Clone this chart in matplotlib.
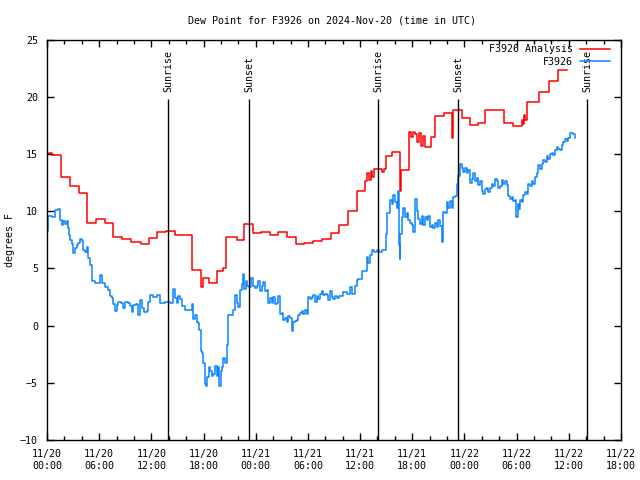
import matplotlib
matplotlib.use("Agg")
import matplotlib.pyplot as plt
from matplotlib.ticker import MultipleLocator

plt.rcParams['font.family'] = ['DejaVu Sans Mono']
plt.rcParams['font.size'] = 7.2

# hours since 11/20 00:00 UTC
analysis_t = [0, 0.6, 1.6, 2.65, 3.68, 4.63, 5.6, 6.67, 7.63, 8.66, 9.66, 10.77,
              11.73, 12.68, 13.65, 14.72, 16.63, 17.7, 17.9, 18.6, 19.6, 20.2,
              20.6, 21.8, 22.65, 23.65, 24.57, 25.64, 26.6, 27.56, 28.6, 29.6,
              30.6, 31.66, 32.6, 33.6, 34.65, 35.6, 36.6, 36.8, 37.0, 37.2,
              37.4, 37.6, 38.55, 38.7, 38.95, 39.7, 40.62, 40.72, 41.6, 41.85,
              42.05, 42.35, 42.55, 42.75, 43.0, 43.25, 43.5, 44.1, 44.6, 45.7,
              46.6, 46.68, 47.7, 48.6, 49.6, 50.4, 52.5, 53.6, 54.6, 54.75,
              54.85, 55.0, 55.2, 56.6, 57.75, 58.7, 59.75]
analysis_v = [15.05, 14.9, 13.0, 12.2, 11.6, 8.95, 9.3, 8.95, 7.7, 7.6, 7.3, 7.1,
              7.65, 8.15, 8.3, 7.9, 4.9, 3.4, 4.2, 3.7, 4.8, 5.0,
              7.7, 7.5, 8.9, 8.05, 8.2, 7.9, 8.2, 7.75, 7.1, 7.25,
              7.35, 7.6, 8.05, 8.8, 10.0, 11.75, 12.6, 13.3, 12.7, 13.5,
              13.0, 13.65, 13.4, 13.65, 14.8, 15.15, 11.8, 13.6, 16.9, 16.5,
              16.9, 16.7, 16.0, 16.8, 15.7, 16.6, 15.6, 16.5, 18.3, 18.6,
              16.4, 18.8, 18.1, 17.5, 17.7, 18.8, 17.7, 17.4, 18.0, 17.6,
              18.4, 18.0, 19.5, 20.4, 21.4, 22.3, 22.3]

obs_t = [0.0, 0.15, 0.54, 0.92, 1.23, 1.49, 1.69, 1.88, 2.07, 2.26, 2.38, 2.53,
         2.68, 2.84, 3.03, 3.22, 3.41, 3.6, 3.79, 3.99, 4.18, 4.37, 4.56, 4.75,
         4.94, 5.14, 5.52, 5.9, 6.09, 6.29, 6.67, 7.05, 7.24, 7.44, 7.63, 7.82,
         8.01, 8.2, 8.51, 8.78, 8.97, 9.35, 9.54, 9.74, 9.93, 10.2, 10.5, 10.69,
         10.89, 11.19, 11.46, 11.58, 11.84, 12.22, 12.61, 12.99, 13.57, 14.14,
         14.52, 14.72, 14.91, 15.1, 15.29, 15.49, 15.87, 16.25, 16.63, 16.82,
         17.02, 17.21, 17.4, 17.51, 17.67, 17.82, 17.97, 18.17, 18.28, 18.43,
         18.59, 18.74, 18.94, 19.12, 19.32, 19.51, 19.7, 19.81, 19.97, 20.09,
         20.27, 20.47, 20.66, 20.85, 21.24, 21.42, 21.62, 21.81, 22.0, 22.19,
         22.39, 22.57, 22.69, 22.85, 23.03, 23.26, 23.46, 23.65, 23.92, 24.11,
         24.3, 24.49, 24.69, 24.87, 25.07, 25.26, 25.45, 25.64, 25.84, 26.02,
         26.22, 26.41, 26.6, 26.79, 26.99, 27.17, 27.37, 27.56, 27.75, 27.94,
         28.14, 28.25, 28.52, 28.71, 28.9, 29.09, 29.28, 29.47, 29.67, 29.86,
         30.05, 30.24, 30.44, 30.62, 30.82, 31.01, 31.2, 31.39, 31.59, 31.77,
         31.97, 32.16, 32.35, 32.54, 32.74, 32.92, 33.12, 33.31, 33.61, 34.04,
         34.46, 34.84, 35.07, 35.41, 35.61, 35.8, 36.2, 36.56, 36.76, 36.94,
         37.14, 37.33, 37.6, 37.9, 38.2, 38.5, 38.86, 38.94, 39.13, 39.44,
         39.63, 39.82, 40.01, 40.21, 40.39, 40.47, 40.55, 40.62, 40.79, 40.97,
         41.16, 41.36, 41.54, 41.74, 41.93, 42.12, 42.31, 42.51, 42.69, 42.89,
         43.08, 43.27, 43.46, 43.66, 43.84, 44.04, 44.23, 44.42, 44.61, 44.81,
         44.99, 45.19, 45.38, 45.57, 45.76, 45.96, 46.14, 46.34, 46.53, 46.72,
         46.91, 47.11, 47.29, 47.49, 47.68, 47.87, 48.06, 48.26, 48.44, 48.64,
         48.83, 49.02, 49.21, 49.41, 49.59, 49.79, 49.98, 50.17, 50.36, 50.56,
         50.74, 50.94, 51.13, 51.32, 51.51, 51.71, 51.89, 52.09, 52.28, 52.47,
         52.66, 52.86, 53.04, 53.24, 53.43, 53.62, 53.81, 53.93, 54.1, 54.27,
         54.39, 54.58, 54.77, 54.96, 55.16, 55.34, 55.54, 55.73, 55.92, 56.11,
         56.31, 56.49, 56.69, 56.88, 57.07, 57.26, 57.46, 57.64, 57.84, 58.03,
         58.22, 58.41, 58.61, 58.79, 58.99, 59.18, 59.37, 59.56, 59.76, 59.94,
         60.14, 60.33, 60.52, 60.71]
obs_v = [8.3, 9.6, 9.5, 10.1, 10.2, 9.2, 8.8, 9.1, 8.9, 9.1, 8.5, 7.9,
         7.5, 7.1, 6.3, 6.8, 7.0, 7.2, 7.6, 7.4, 6.6, 6.4, 6.9, 5.9,
         5.3, 3.9, 3.7, 3.7, 4.4, 3.7, 3.4, 3.1, 2.6, 2.4, 1.9, 1.3,
         1.8, 2.1, 2.0, 1.5, 2.1, 2.0, 1.7, 1.2, 1.8, 1.9, 0.9, 2.2,
         1.5, 1.2, 1.3, 2.1, 2.7, 2.5, 2.7, 2.0, 2.1, 2.0,
         3.2, 2.4, 2.0, 2.6, 2.3, 1.7, 1.4, 1.4, 1.9, 0.6,
         0.9, 0.3, 0.2, -0.4, -2.2, -2.4, -3.3, -5.1, -5.3, -4.5,
         -3.6, -4.0, -4.4, -4.2, -3.5, -4.4, -3.6, -5.3, -4.0, -3.6,
         -2.8, -3.3, -1.7, 0.9, 0.9, 1.4, 2.65, 2.0, 1.6, 3.1,
         3.6, 4.5, 3.2, 3.9, 3.5, 3.4, 4.2, 3.5, 3.3, 3.5,
         3.9, 3.0, 3.5, 3.8, 3.0, 3.1, 2.0, 2.4, 2.0, 2.5,
         1.9, 2.0, 2.6, 1.0, 1.1, 0.5, 0.7, 0.3, 0.8, 0.7,
         -0.5, 0.3, 0.4, 0.5, 0.9, 1.1, 1.3, 1.0, 1.4, 1.0,
         2.5, 2.3, 2.5, 2.7, 2.1, 2.6, 2.3, 2.8, 3.0, 2.7,
         2.8, 2.7, 2.2, 3.0, 2.5, 2.3, 2.6, 2.4, 2.6, 2.95,
         2.8, 3.4, 2.8, 3.5, 3.96, 4.1, 4.8, 4.8, 6.0, 5.5,
         6.2, 6.6, 6.4, 6.6, 6.4, 6.6, 6.6, 8.0, 9.8, 11.0,
         10.6, 11.4, 10.8, 10.3, 11.8, 7.0, 5.8, 8.0, 9.5, 10.3,
         9.5, 9.8, 9.2, 9.0, 8.8, 8.2, 11.1, 10.0, 9.3, 8.9,
         9.6, 8.8, 9.5, 9.2, 9.6, 8.6, 8.8, 8.5, 9.0, 8.6,
         9.2, 8.7, 7.3, 9.9, 9.8, 10.8, 10.3, 10.9, 10.3, 11.2,
         11.3, 12.4, 13.1, 14.1, 13.8, 13.4, 13.8, 13.3, 13.6, 12.5,
         12.8, 13.3, 12.6, 12.9, 12.3, 12.6, 11.8, 11.5, 11.9, 12.0,
         11.7, 12.0, 12.4, 12.2, 12.8, 12.6, 12.0, 12.2, 12.7, 12.4,
         12.6, 12.3, 11.3, 11.1, 11.2, 10.9, 11.0, 9.5, 10.6, 10.2,
         11.0, 10.8, 11.4, 11.7, 11.5, 12.4, 12.2, 12.6, 12.4, 13.0,
         13.3, 14.0, 13.7, 14.1, 14.5, 14.3, 14.8, 14.6, 15.0, 15.1,
         14.9, 15.3, 15.6, 15.4, 15.3, 15.8, 16.0, 16.3, 16.1, 16.4,
         16.8, 16.8, 16.7, 16.4]

sun_t = [13.95, 23.26, 38.09, 47.29, 62.09]
sun_labels = ["Sunrise", "Sunset", "Sunrise", "Sunset", "Sunrise"]

tick_hours = list(range(0, 67, 6))
tick_labels = ["11/20\n00:00", "11/20\n06:00", "11/20\n12:00", "11/20\n18:00",
               "11/21\n00:00", "11/21\n06:00", "11/21\n12:00", "11/21\n18:00",
               "11/22\n00:00", "11/22\n06:00", "11/22\n12:00", "11/22\n18:00"]


fig = plt.figure(figsize=(6.4, 4.8), dpi=100)
ax = fig.add_axes([47/640, 1-440/480, 574/640, 400.5/480])

ax.plot(analysis_t, analysis_v, drawstyle='steps-post', color='#ff0000',
        lw=1.1, label='F3926 Analysis')
ax.plot(obs_t, obs_v, drawstyle='steps-post', color='#0a84ff',
        lw=1.1, label='F3926')

for t, lab in zip(sun_t, sun_labels):
    ax.vlines(t, -10, 19.8, color='black', lw=1.0)
    ax.text(t, 20.4, lab, rotation=90, ha='center', va='bottom')

ax.set_xlim(0, 66)
ax.set_ylim(-10, 25)
ax.set_xticks(tick_hours)
ax.set_xticklabels(tick_labels)
ax.xaxis.set_minor_locator(MultipleLocator(2))
ax.yaxis.set_major_locator(MultipleLocator(5))
ax.tick_params(which='both', direction='in', top=True, right=True, width=1)
ax.tick_params(which='major', length=5, pad=6.5)
ax.tick_params(which='minor', length=3)
for s in ax.spines.values():
    s.set_linewidth(1.0)

fig.text(0.518, 0.958, "Dew Point for F3926 on 2024-Nov-20 (time in UTC)",
         ha='center', va='center')
fig.text(0.016, 0.5, "degrees F", rotation=90, ha='center', va='center')

ax.legend(loc='upper right', bbox_to_anchor=(0.981, 0.988), frameon=False,
          markerfirst=False, handlelength=3.0, handletextpad=0.7,
          labelspacing=0.25, borderaxespad=0, borderpad=0)

fig.savefig("out.png", dpi=100)
